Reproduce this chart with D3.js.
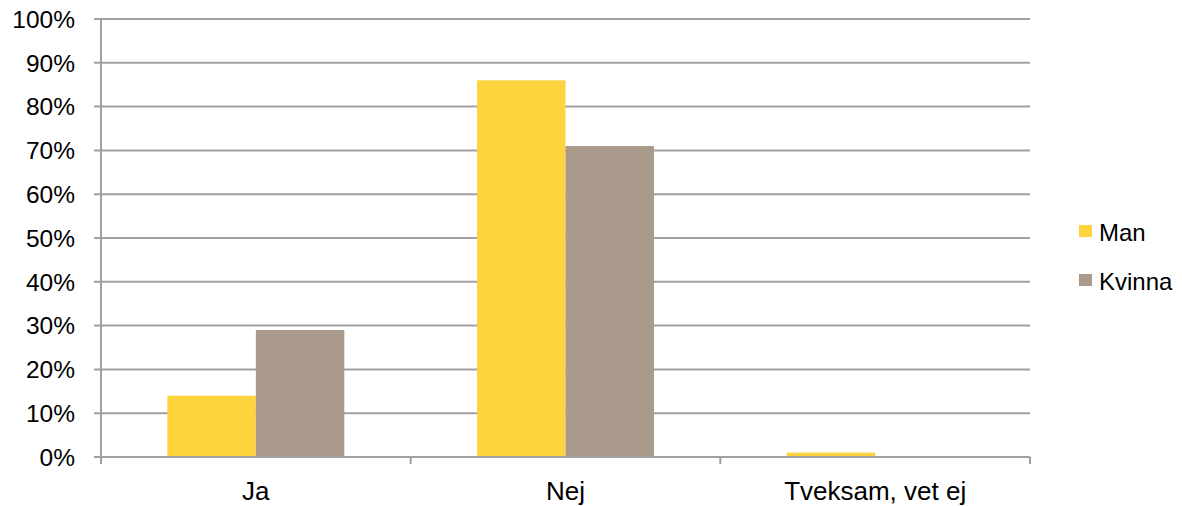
<!DOCTYPE html>
<html>
<head>
<meta charset="utf-8">
<script src="https://cdn.jsdelivr.net/npm/d3@7"></script>
<style>
  body { margin: 0; background: #fff; }
  text { font-family: "Liberation Sans", Arial, sans-serif; fill: #000; }
</style>
</head>
<body>
<div class="chart"></div>
<script>
const categories = ["Ja", "Nej", "Tveksam, vet ej"];
const seriesNames = ["Man", "Kvinna"];
const man = [0.14, 0.86, 0.01];
const kvinna = [0.29, 0.71, 0];
const yTicks = [0, 0.1, 0.2, 0.3, 0.4, 0.5, 0.6, 0.7, 0.8, 0.9, 1];
const colors = ["#FDD33E", "#A99A8C"];

const margin = {top: 19, left: 101, right: 152, bottom: 49};
const width = 1182 - margin.left - margin.right;
const height = 506 - margin.top - margin.bottom;

const svg = d3.select(".chart").append("svg")
    .attr("width", 1182)
    .attr("height", 506)
  .append("g")
    .attr("transform", `translate(${margin.left},${margin.top})`);

const xScale = d3.scaleBand()
    .domain(categories)
    .range([0, width]);

const inner = d3.scaleBand()
    .domain(seriesNames)
    .range([0, xScale.bandwidth()])
    .paddingOuter(0.75);

const yScale = d3.scaleLinear()
    .domain([0, 1])
    .range([height, 0]);

// gridlines
svg.selectAll(".grid")
    .data(yTicks)
    .enter().append("line")
    .attr("class", "grid")
    .attr("x1", -7)
    .attr("x2", width)
    .attr("y1", d => yScale(d))
    .attr("y2", d => yScale(d))
    .attr("stroke", "#A0A0A0")
    .attr("stroke-width", 2);

// y labels
svg.selectAll(".ylab")
    .data(yTicks)
    .enter().append("text")
    .attr("class", "ylab")
    .attr("x", -26)
    .attr("y", d => yScale(d))
    .attr("dy", "0.36em")
    .attr("text-anchor", "end")
    .attr("font-size", 24.5)
    .text(d3.format(".0%"));

// bars
const data = categories.map((c, i) => ({cat: c, vals: [man[i], kvinna[i]]}));
const groups = svg.selectAll(".group")
    .data(data)
    .enter().append("g")
    .attr("transform", d => `translate(${xScale(d.cat)},0)`);

groups.selectAll("rect")
    .data(d => d.vals.map((v, j) => ({name: seriesNames[j], v: v, j: j})))
    .enter().append("rect")
    .attr("x", d => inner(d.name))
    .attr("width", inner.bandwidth())
    .attr("y", d => yScale(d.v))
    .attr("height", d => height - yScale(d.v))
    .attr("fill", d => colors[d.j]);

// y axis line
svg.append("line")
    .attr("x1", 0).attr("x2", 0)
    .attr("y1", 0).attr("y2", height)
    .attr("stroke", "#A0A0A0")
    .attr("stroke-width", 2);

// x axis line + ticks
svg.append("line")
    .attr("x1", 0).attr("x2", width)
    .attr("y1", height).attr("y2", height)
    .attr("stroke", "#A0A0A0")
    .attr("stroke-width", 2);

const bounds = categories.map(c => xScale(c)).concat([width]);
svg.selectAll(".xtick")
    .data(bounds)
    .enter().append("line")
    .attr("x1", d => d).attr("x2", d => d)
    .attr("y1", height).attr("y2", height + 7)
    .attr("stroke", "#A0A0A0")
    .attr("stroke-width", 2);

svg.selectAll(".xlab")
    .data(categories)
    .enter().append("text")
    .attr("x", d => xScale(d) + xScale.bandwidth() / 2)
    .attr("y", height + 43)
    .attr("text-anchor", "middle")
    .attr("font-size", 26)
    .text(d => d);

// legend
const legend = svg.append("g")
    .attr("transform", `translate(${width + 49},0)`);

seriesNames.forEach((s, i) => {
    const ly = 206 + i * 49;
    legend.append("rect")
        .attr("x", 0).attr("y", ly)
        .attr("width", 13).attr("height", 12)
        .attr("fill", colors[i]);
    legend.append("text")
        .attr("x", 20)
        .attr("y", ly + 16)
        .attr("font-size", 24)
        .text(s);
});
</script>
</body>
</html>
